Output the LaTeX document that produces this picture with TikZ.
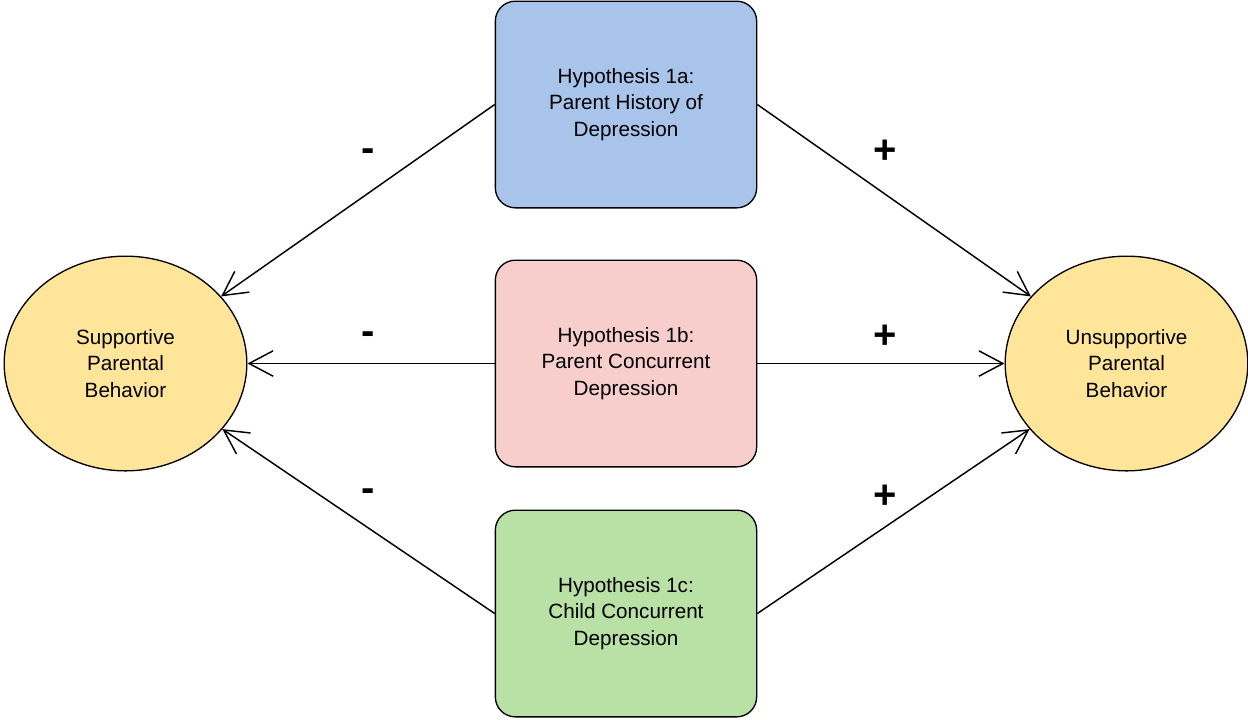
\documentclass[tikz,border=0pt]{standalone}
\usepackage{fontspec}
\setmainfont{Liberation Sans}
\usetikzlibrary{shapes.geometric,arrows.meta}
\definecolor{hypblue}{HTML}{A9C4EB}
\definecolor{hyppink}{HTML}{F8CECC}
\definecolor{hypgreen}{HTML}{B9E0A5}
\definecolor{behyellow}{HTML}{FFE599}
\tikzset{
  hyp/.style={draw,line width=1pt,rounded corners=15pt,minimum width=196pt,minimum height=155pt,align=center,font=\fontsize{15.5}{20}\selectfont},
  beh/.style={draw,line width=1pt,ellipse,fill=behyellow,minimum width=182pt,minimum height=161pt,align=center,font=\fontsize{15.5}{20}\selectfont},
  link/.style={line width=1.1pt,-{Straight Barb[length=18pt,width=19pt,line width=1.1pt]}},
  sign/.style={font=\fontsize{30}{30}\bfseries\selectfont}
}
\begin{document}
\begin{tikzpicture}[x=0.75pt,y=-0.75pt]
\useasboundingbox (0,0) rectangle (1248,719);
\node[beh] (sup) at (125.5,363.5) {Supportive\\Parental\\Behavior};
\node[beh] (unsup) at (1126.5,363.5) {Unsupportive\\Parental\\Behavior};
\node[hyp,fill=hypblue] (ha) at (626,104.5) {Hypothesis 1a:\\Parent History of\\Depression};
\node[hyp,fill=hyppink] (hb) at (626,363.5) {Hypothesis 1b:\\Parent Concurrent\\Depression};
\node[hyp,fill=hypgreen] (hc) at (626,613.5) {Hypothesis 1c:\\Child Concurrent\\Depression};
\foreach \h in {ha,hb,hc} {\draw[link] (\h.west) -- (sup); \draw[link] (\h.east) -- (unsup);}
\node[sign] (ma) at (368,155) {-}; \node[sign] (pa) at (885,152) {+};
\node[sign] (mb) at (368,338) {-}; \node[sign] (pb) at (885,337) {+};
\node[sign] (mc) at (368,495) {-}; \node[sign] (pc) at (885,497) {+};
\end{tikzpicture}
\end{document}
